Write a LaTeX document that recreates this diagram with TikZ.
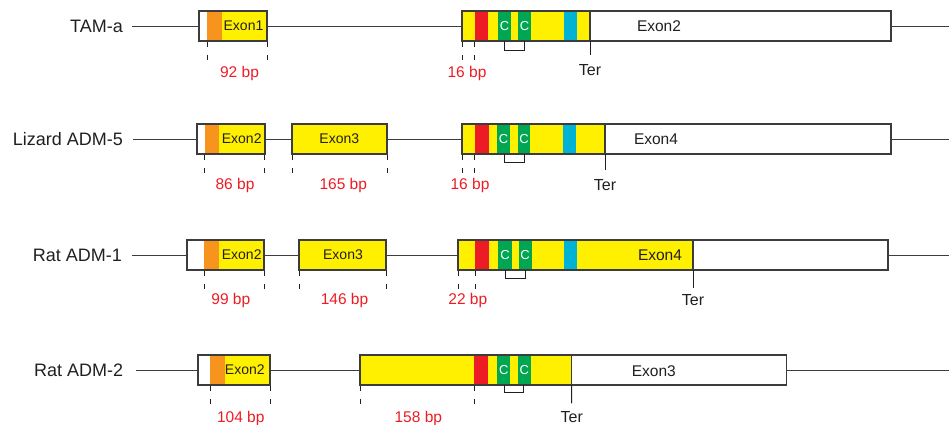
\documentclass[tikz,border=0pt]{standalone}
\usepackage{fontspec}
\setmainfont{Liberation Sans}
\usetikzlibrary{fit}
\definecolor{ylw}{RGB}{255,240,0}
\definecolor{org}{RGB}{247,148,30}
\definecolor{rd}{RGB}{237,28,36}
\definecolor{grn}{RGB}{0,166,81}
\definecolor{blu}{RGB}{0,178,212}
\definecolor{ink}{RGB}{35,31,32}
\definecolor{ln}{RGB}{60,60,60}
\tikzset{
  exbox/.style={draw=ln,line width=1.1pt,inner sep=0pt,outer sep=0pt},
  intron/.style={draw=ln,line width=1pt},
  dmark/.style={draw=ink,line width=0.9pt,dash pattern=on 5pt off 8pt},
  termk/.style={draw=ink,line width=1pt},
  brk/.style={draw=ink,line width=1pt},
  rowlab/.style={font=\fontsize{18}{18}\selectfont,text=ink,anchor=east,inner sep=0pt},
  exlab/.style={font=\fontsize{14}{14}\selectfont,text=ink,inner sep=0pt},
  exlabL/.style={font=\fontsize{15.5}{15.5}\selectfont,text=ink,inner sep=0pt},
  bplab/.style={font=\fontsize{15.5}{15.5}\selectfont,text=rd,inner sep=0pt},
  terlab/.style={font=\fontsize{16}{16}\selectfont,text=ink,inner sep=0pt},
  clab/.style={font=\fontsize{13}{13}\selectfont,text=white,inner sep=0pt},
}
\begin{document}
\begin{tikzpicture}[x=1pt,y=-1pt]
\useasboundingbox (0,0) rectangle (949,424);

%% ---------------- Row 1: TAM-a ----------------
\node[rowlab] (lab1) at (123,26) {TAM-a};
\fill[white] (199,11) rectangle (207,41);
\fill[org] (207,11) rectangle (222,41);
\fill[ylw] (222,11) rectangle (267,41);
\coordinate (a1) at (199,11); \coordinate (b1) at (267,41);
\node[exbox,fit=(a1)(b1)] (r1e1) {};
\node[exlab] at (243.5,26) {Exon1};
\fill[ylw] (462,11) rectangle (590,41);
\fill[rd] (475,11) rectangle (488,41);
\fill[grn] (498,11) rectangle (511,41);
\fill[grn] (518,11) rectangle (531,41);
\fill[blu] (564,11) rectangle (577,41);
\coordinate (a2) at (462,11); \coordinate (b2) at (590,41);
\node[exbox,fit=(a2)(b2)] (r1c) {};
\coordinate (a3) at (590,11); \coordinate (b3) at (891,41);
\node[exbox,fit=(a3)(b3)] (r1u) {};
\node[exlabL] at (659,26) {Exon2};
\node[clab] at (504.5,26.5) {C};
\node[clab] at (524.5,26.5) {C};
\coordinate (r1end) at (949,26);
\draw[intron] ([xshift=9pt]lab1.east) -- (r1e1.west);
\draw[intron] (r1e1.east) -- (r1c.west);
\draw[intron] (r1u.east) -- (r1end);
\draw[brk] (504.5,41) -- (504.5,50) -- (524.5,50) -- (524.5,41);
\draw[dmark] (207,42) -- (207,61);
\draw[dmark] (267,42) -- (267,61);
\draw[dmark] (462,42) -- (462,61);
\draw[dmark] (474.5,42) -- (474.5,61);
\node[bplab] at (239.5,73) {92 bp};
\node[bplab] at (467,73) {16 bp};
\node[terlab] (ter1) at (590,70) {Ter};
\draw[termk] (r1c.south east) -- (590,55);

%% ---------------- Row 2: Lizard ADM-5 ----------------
\node[rowlab] (lab2) at (123,139) {Lizard ADM-5};
\fill[white] (197,124) rectangle (205,154);
\fill[org] (205,124) rectangle (219,154);
\fill[ylw] (219,124) rectangle (265,154);
\coordinate (c1) at (197,124); \coordinate (d1) at (265,154);
\node[exbox,fit=(c1)(d1)] (r2e2) {};
\node[exlab] at (241.7,139) {Exon2};
\fill[ylw] (292,124) rectangle (387,154);
\coordinate (c2) at (292,124); \coordinate (d2) at (387,154);
\node[exbox,fit=(c2)(d2)] (r2e3) {};
\node[exlab] at (339.3,139) {Exon3};
\fill[ylw] (462,124) rectangle (605,154);
\fill[rd] (475,124) rectangle (489,154);
\fill[grn] (497,124) rectangle (510,154);
\fill[grn] (518,124) rectangle (530,154);
\fill[blu] (563,124) rectangle (576,154);
\coordinate (c3) at (462,124); \coordinate (d3) at (605,154);
\node[exbox,fit=(c3)(d3)] (r2c) {};
\coordinate (c4) at (605,124); \coordinate (d4) at (891,154);
\node[exbox,fit=(c4)(d4)] (r2u) {};
\node[exlabL] at (656,139) {Exon4};
\node[clab] at (503.5,139.5) {C};
\node[clab] at (524,139.5) {C};
\coordinate (r2end) at (949,139);
\draw[intron] ([xshift=10pt]lab2.east) -- (r2e2.west);
\draw[intron] (r2e2.east) -- (r2e3.west);
\draw[intron] (r2e3.east) -- (r2c.west);
\draw[intron] (r2u.east) -- (r2end);
\draw[brk] (504,154) -- (504,162.5) -- (524,162.5) -- (524,154);
\draw[dmark] (204,155) -- (204,174);
\draw[dmark] (264.5,155) -- (264.5,174);
\draw[dmark] (292,155) -- (292,174);
\draw[dmark] (387,155) -- (387,174);
\draw[dmark] (462,155) -- (462,174);
\draw[dmark] (474,155) -- (474,174);
\node[bplab] at (235,185) {86 bp};
\node[bplab] at (343.3,185) {165 bp};
\node[bplab] at (470,185) {16 bp};
\node[terlab] (ter2) at (605,185) {Ter};
\draw[termk] (r2c.south east) -- (605,170);

%% ---------------- Row 3: Rat ADM-1 ----------------
\node[rowlab] (lab3) at (122,255) {Rat ADM-1};
\fill[white] (187,240) rectangle (204,270);
\fill[org] (204,240) rectangle (219,270);
\fill[ylw] (219,240) rectangle (264,270);
\coordinate (e1) at (187,240); \coordinate (f1) at (264,270);
\node[exbox,fit=(e1)(f1)] (r3e2) {};
\node[exlab] at (241.7,255) {Exon2};
\fill[ylw] (299,240) rectangle (386,270);
\coordinate (e2) at (299,240); \coordinate (f2) at (386,270);
\node[exbox,fit=(e2)(f2)] (r3e3) {};
\node[exlab] at (343,255) {Exon3};
\fill[ylw] (458,240) rectangle (693,270);
\fill[rd] (475,240) rectangle (488.5,270);
\fill[grn] (498,240) rectangle (511.5,270);
\fill[grn] (518.5,240) rectangle (531.5,270);
\fill[blu] (564,240) rectangle (577,270);
\coordinate (e3) at (458,240); \coordinate (f3) at (693,270);
\node[exbox,fit=(e3)(f3)] (r3c) {};
\coordinate (e4) at (693,240); \coordinate (f4) at (888,270);
\node[exbox,fit=(e4)(f4)] (r3u) {};
\node[exlabL] at (660,255) {Exon4};
\node[clab] at (505,255.5) {C};
\node[clab] at (525,255.5) {C};
\coordinate (r3end) at (949,255);
\draw[intron] ([xshift=10pt]lab3.east) -- (r3e2.west);
\draw[intron] (r3e2.east) -- (r3e3.west);
\draw[intron] (r3e3.east) -- (r3c.west);
\draw[intron] (r3u.east) -- (r3end);
\draw[brk] (505,270) -- (505,278) -- (525,278) -- (525,270);
\draw[dmark] (204.3,271) -- (204.3,290);
\draw[dmark] (264.3,271) -- (264.3,290);
\draw[dmark] (299,271) -- (299,290);
\draw[dmark] (386,271) -- (386,290);
\draw[dmark] (458.3,271) -- (458.3,290);
\draw[dmark] (475,271) -- (475,290);
\node[bplab] at (230.8,300) {99 bp};
\node[bplab] at (344.5,300) {146 bp};
\node[bplab] at (467.8,300) {22 bp};
\node[terlab] (ter3) at (693,300) {Ter};
\draw[termk] (r3c.south east) -- (693,288);

%% ---------------- Row 4: Rat ADM-2 ----------------
\node[rowlab] (lab4) at (123.3,370) {Rat ADM-2};
\fill[white] (198,355) rectangle (210,385);
\fill[org] (210,355) rectangle (225,385);
\fill[ylw] (225,355) rectangle (270,385);
\coordinate (g1) at (198,355); \coordinate (h1) at (270,385);
\node[exbox,fit=(g1)(h1)] (r4e2) {};
\node[exlab] at (244.8,370) {Exon2};
\fill[ylw] (360,355) rectangle (571.7,385);
\fill[rd] (474.3,355) rectangle (487.7,385);
\fill[grn] (497.3,355) rectangle (510,385);
\fill[grn] (517.7,355) rectangle (530.7,385);
\coordinate (g2) at (360,355); \coordinate (h2) at (571.7,385);
\node[exbox,fit=(g2)(h2)] (r4c) {};
\coordinate (g3) at (571.7,355); \coordinate (h3) at (786.7,385);
\node[exbox,fit=(g3)(h3)] (r4u) {};
\node[exlabL] at (653.8,371) {Exon3};
\node[clab] at (503.7,370.5) {C};
\node[clab] at (524.2,370.5) {C};
\coordinate (r4end) at (949,370);
\draw[intron] ([xshift=13pt]lab4.east) -- (r4e2.west);
\draw[intron] (r4e2.east) -- (r4c.west);
\draw[intron] (r4u.east) -- (r4end);
\draw[brk] (504,385) -- (504,392) -- (523.7,392) -- (523.7,385);
\draw[dmark] (210,386) -- (210,405);
\draw[dmark] (270.3,386) -- (270.3,405);
\draw[dmark] (360,386) -- (360,405);
\draw[dmark] (474.3,386) -- (474.3,405);
\node[bplab] at (240.8,418) {104 bp};
\node[bplab] at (418.3,418) {158 bp};
\node[terlab] (ter4) at (571.7,417) {Ter};
\draw[termk] (r4c.south east) -- (571.7,403.3);
\end{tikzpicture}
\end{document}
